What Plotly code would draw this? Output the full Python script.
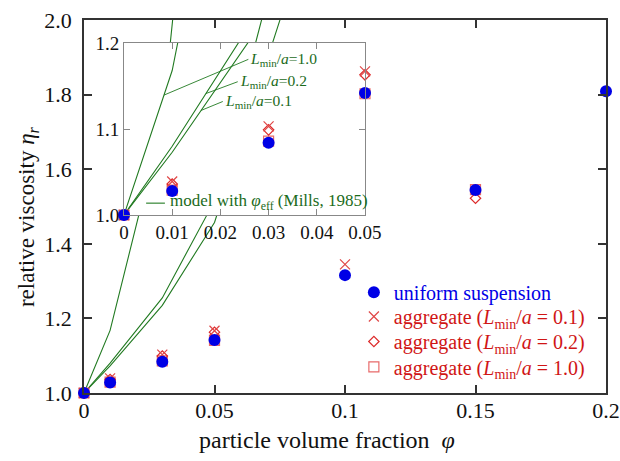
import numpy as np
import plotly.graph_objects as go

# ---- simulation results: relative viscosity vs particle volume fraction ----
phi_uniform = [0.0, 0.01, 0.03, 0.05, 0.10, 0.15, 0.20]
eta_uniform = [1.000, 1.028, 1.084, 1.142, 1.316, 1.544, 1.809]

phi_agg01 = [0.0, 0.01, 0.03, 0.05, 0.10]
eta_agg01 = [1.000, 1.039, 1.103, 1.167, 1.345]

phi_agg02 = [0.0, 0.01, 0.03, 0.05, 0.15]
eta_agg02 = [1.000, 1.036, 1.099, 1.163, 1.522]

phi_agg10 = [0.0, 0.01, 0.03, 0.05, 0.15]
eta_agg10 = [1.000, 1.029, 1.086, 1.141, 1.545]

# ---- Mills (1985) model evaluated with the effective volume fraction ----
phi_model = [0.0, 0.01, 0.03, 0.05, 0.10]
eta_model_L10 = [1.000, 1.168, 1.730, 2.950, 6.500]
eta_model_L02 = [1.000, 1.080, 1.255, 1.515, 2.860]
eta_model_L01 = [1.000, 1.073, 1.235, 1.457, 2.540]

model_labels = ["1.0", "0.2", "0.1"]

FONT = "'Liberation Serif', 'Times New Roman', Times, serif"
GREEN = "#217a21"
GREEN_TXT = "#1b6b1b"
BLUE = "#0000e6"
RED_TXT = "#d01515"
LMIN = "<i>L</i><sub>min</sub>/<i>a</i>"

fig = go.Figure()


def add_model(xa, ya):
    for eta in (eta_model_L10, eta_model_L02, eta_model_L01):
        fig.add_trace(go.Scatter(
            x=phi_model, y=eta, mode="lines", xaxis=xa, yaxis=ya,
            line=dict(color=GREEN, width=1.1), showlegend=False,
            hoverinfo="skip"))


def add_data(xa, ya, legend):
    common = dict(mode="markers", xaxis=xa, yaxis=ya, cliponaxis=False)
    fig.add_trace(go.Scatter(
        x=phi_agg10, y=eta_agg10,
        name=f"<span style='color:{RED_TXT}'>aggregate ({LMIN} = 1.0)</span>",
        marker=dict(symbol="square-open", size=10, color="#e86a6a", line=dict(width=1.2)),
        showlegend=legend, legend="legend4", **common))
    fig.add_trace(go.Scatter(
        x=phi_agg02, y=eta_agg02,
        name=f"<span style='color:{RED_TXT}'>aggregate ({LMIN} = 0.2)</span>",
        marker=dict(symbol="diamond-open", size=8, color="#dd2a2a", line=dict(width=1.2)),
        showlegend=legend, legend="legend3", **common))
    fig.add_trace(go.Scatter(
        x=phi_agg01, y=eta_agg01,
        name=f"<span style='color:{RED_TXT}'>aggregate ({LMIN} = 0.1)</span>",
        marker=dict(symbol="x-thin-open", size=10, color="#e04848",
                    line=dict(width=1.2, color="#e04848")),
        showlegend=legend, legend="legend2", **common))
    fig.add_trace(go.Scatter(
        x=phi_uniform, y=eta_uniform,
        name=f"<span style='color:{BLUE}'>uniform suspension</span>",
        marker=dict(symbol="circle", size=12, color=BLUE),
        showlegend=legend, legend="legend", **common))


# main panel
add_model("x", "y")
add_data("x", "y", True)
# inset panel
add_model("x2", "y2")
add_data("x2", "y2", False)

axis_main = dict(showline=True, linecolor="#333333", linewidth=1.8, mirror="ticks",
                 ticks="inside", ticklen=8, tickwidth=1.5, tickcolor="#333333",
                 showgrid=False, zeroline=False, automargin=False,
                 tickfont=dict(family=FONT, size=22, color="#111111"))
axis_inset = dict(showline=True, linecolor="#888888", linewidth=1.1, mirror="ticks",
                  ticks="inside", ticklen=6, tickwidth=1.1, tickcolor="#888888",
                  showgrid=False, zeroline=False, automargin=False,
                  tickfont=dict(family=FONT, size=19, color="#111111"))

# one legend box per entry so the rows sit at fixed heights
legend_rows = {"legend": 0.27, "legend2": 0.205, "legend3": 0.138, "legend4": 0.07}
legend_cfg = {
    key: dict(x=0.517, y=yy, xanchor="left", yanchor="middle", bgcolor="rgba(0,0,0,0)",
              font=dict(family=FONT, size=20), itemwidth=30)
    for key, yy in legend_rows.items()
}

fig.update_layout(
    width=620, height=461,
    margin=dict(l=84, r=14, t=20, b=68),
    paper_bgcolor="white", plot_bgcolor="white",
    font=dict(family=FONT, size=20, color="#111111"),
    xaxis=dict(range=[0, 0.2], tickvals=[0, 0.05, 0.1, 0.15, 0.2],
               ticktext=["0", "0.05", "0.1", "0.15", "0.2"], ticklabelstandoff=-3,
               **axis_main),
    yaxis=dict(range=[1.0, 2.0], dtick=0.2, tickformat=".1f", ticklabelstandoff=6,
               **axis_main),
    xaxis2=dict(domain=[0.0766, 0.5383], anchor="y2", range=[0, 0.05], dtick=0.01,
                **axis_inset),
    yaxis2=dict(domain=[0.4772, 0.9383], anchor="x2", range=[1.0, 1.2], dtick=0.1,
                tickformat=".1f", **axis_inset),
    showlegend=True,
    **legend_cfg,
)

# axis titles
fig.add_annotation(x=0.4655, y=-0.126, xref="paper", yref="paper", showarrow=False,
                   text="particle volume fraction  <i>φ</i>", xanchor="center", yanchor="middle",
                   font=dict(family=FONT, size=24, color="#111111"))
fig.add_annotation(x=-0.107, y=0.472, xref="paper", yref="paper", showarrow=False,
                   text="relative viscosity <i>η<sub>r</sub></i>", textangle=-90,
                   xanchor="center", yanchor="middle",
                   font=dict(family=FONT, size=23, color="#111111"))

# labels for the model curves, with leader lines pointing at each curve
leader_phi = [0.0083, 0.0170, 0.0160]
label_pos = [(0.0258, 1.181), (0.0236, 1.155), (0.0205, 1.132)]
LMIN_SMALL = "<i>L</i><sub><span style='font-size:11px'>min</span></sub>/<i>a</i>"
for lab, eta, ph, (tx, ty) in zip(model_labels, (eta_model_L10, eta_model_L02, eta_model_L01),
                                  leader_phi, label_pos):
    fig.add_annotation(
        x=ph, y=float(np.interp(ph, phi_model, eta)), xref="x2", yref="y2",
        ax=tx, ay=ty, axref="x2", ayref="y2",
        text=f"{LMIN_SMALL}={lab}", xanchor="left", yanchor="middle",
        showarrow=True, arrowhead=0, arrowwidth=0.9, arrowcolor=GREEN, standoff=0,
        font=dict(family=FONT, size=15.5, color=GREEN_TXT))

# key for the model curves inside the inset
fig.add_shape(type="line", xref="paper", yref="paper", x0=0.119, x1=0.155, y0=0.509, y1=0.509,
              line=dict(color=GREEN, width=1.1))
fig.add_annotation(x=0.161, y=0.512, xref="paper", yref="paper", xanchor="left", yanchor="middle",
                   text="model with <i>φ</i><sub>eff</sub> (Mills, 1985)", showarrow=False,
                   font=dict(family=FONT, size=17, color=GREEN_TXT))

fig.write_html("out.html")
